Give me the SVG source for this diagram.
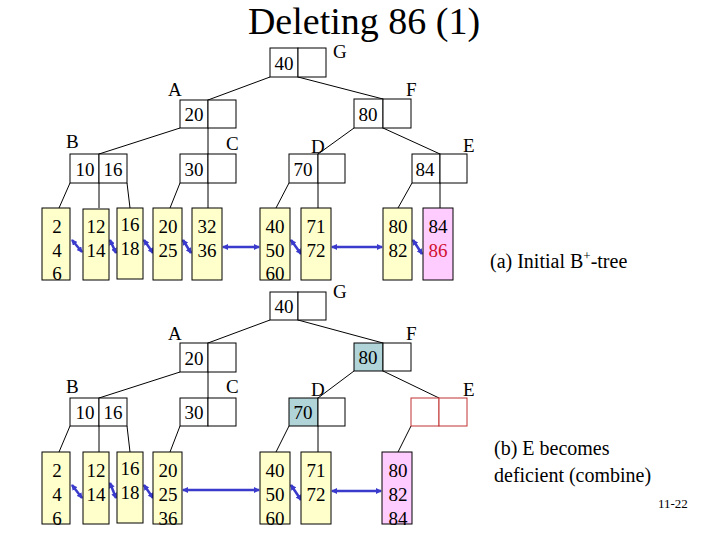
<svg xmlns="http://www.w3.org/2000/svg" width="720" height="540" viewBox="0 0 720 540" font-family="'Liberation Serif', 'Times New Roman', serif">
<defs>
<marker id="ah" markerWidth="6" markerHeight="6" refX="5" refY="3" orient="auto-start-reverse" markerUnits="userSpaceOnUse"><path d="M0,0 L6,3 L0,6 z" fill="#3a3acc"/></marker>
<style>
text{font-family:'Liberation Serif','Times New Roman',serif;fill:#000}
.k{font-size:19px;font-family:'Liberation Serif','Times New Roman',serif}
.n{fill:#fff;stroke:#000;stroke-width:1}
.lf{fill:#ffffcc;stroke:#000;stroke-width:1}
.pk{fill:#ffccff;stroke:#000;stroke-width:1}
.bl{fill:#b0d4d8;stroke:#000;stroke-width:1}
.rd{fill:#fff;stroke:#c03030;stroke-width:1}
.e{stroke:#000;stroke-width:1;fill:none}
.p{stroke:#3a3acc;stroke-width:2.5;fill:none;marker-start:url(#ah);marker-end:url(#ah)}
.lb{font-size:19px;font-family:'Liberation Serif','Times New Roman',serif}
</style>
</defs>
<rect width="720" height="540" fill="#fff"/>
<text x="364" y="34" font-size="38" text-anchor="middle">Deleting 86 (1)</text>
<g id="connectors">
<path class="e" d="M270,77 L208,100 M298,77 L383,99 M180,128 L99,154 M208,128 L208,154 M354,128 L318,154 M383,128 L440,154 M70,183 L59,208 M99,183 L99,208 M127,183 L130,208 M180,183 L170,208 M208,183 L208,208 M289,183 L276,208 M318,183 L318,208 M412,183 L398,208 M440,183 L440,208"/>
<line class="p" x1="72" y1="240" x2="82" y2="252"/>
<line class="p" x1="110" y1="240" x2="116" y2="253"/>
<line class="p" x1="144" y1="240" x2="153" y2="253"/>
<line class="p" x1="183" y1="240" x2="191" y2="253"/>
<line class="p" x1="223" y1="247" x2="259" y2="247"/>
<line class="p" x1="291" y1="240" x2="301" y2="254"/>
<line class="p" x1="332" y1="247" x2="382" y2="247"/>
<line class="p" x1="413" y1="240" x2="422" y2="254"/>
<path class="e" d="M270,320 L208,343 M298,320 L383,343 M180,372 L99,398 M208,372 L208,398 M354,371 L318,398 M383,371 L439,398 M70,426 L59,452 M99,426 L99,452 M127,426 L130,452 M180,426 L170,452 M289,426 L276,452 M318,426 L318,452 M411,426 L398,452"/>
<line class="p" x1="72" y1="485" x2="82" y2="498"/>
<line class="p" x1="110" y1="483" x2="116" y2="498"/>
<line class="p" x1="144" y1="485" x2="153" y2="498"/>
<line class="p" x1="183" y1="490" x2="259" y2="490"/>
<line class="p" x1="291" y1="485" x2="301" y2="500"/>
<line class="p" x1="332" y1="491" x2="381" y2="491"/>
</g>
<g id="tree-a">
<g id="G1"><rect class="n" x="270" y="48" width="28" height="29"/><rect class="n" x="298" y="48" width="28" height="29"/><text class="k" x="284" y="70" text-anchor="middle">40</text><text class="lb" x="333" y="58">G</text></g>
<g id="A1"><rect class="n" x="180" y="100" width="28" height="28"/><rect class="n" x="208" y="100" width="28" height="28"/><text class="k" x="194" y="121" text-anchor="middle">20</text><text class="lb" x="168" y="96">A</text></g>
<g id="F1"><rect class="n" x="354" y="99" width="29" height="29"/><rect class="n" x="383" y="99" width="28" height="29"/><text class="k" x="368" y="121" text-anchor="middle">80</text><text class="lb" x="406" y="96">F</text></g>
<g id="B1"><rect class="n" x="70" y="154" width="29" height="29"/><rect class="n" x="99" y="154" width="28" height="29"/><text class="k" x="85" y="176" text-anchor="middle">10</text><text class="k" x="113" y="176" text-anchor="middle">16</text><text class="lb" x="66" y="148">B</text></g>
<g id="C1"><rect class="n" x="180" y="154" width="28" height="29"/><rect class="n" x="208" y="154" width="28" height="29"/><text class="k" x="194" y="176" text-anchor="middle">30</text><text class="lb" x="226" y="150">C</text></g>
<g id="D1"><rect class="n" x="289" y="154" width="29" height="29"/><rect class="n" x="318" y="154" width="27" height="29"/><text class="k" x="303" y="176" text-anchor="middle">70</text><text class="lb" x="311" y="153">D</text></g>
<g id="E1"><rect class="n" x="412" y="154" width="28" height="29"/><rect class="n" x="440" y="154" width="27" height="29"/><text class="k" x="425" y="176" text-anchor="middle">84</text><text class="lb" x="463" y="152">E</text></g>
<g id="L1"><rect class="lf" x="42" y="208" width="28" height="72"/><text class="k" x="57" y="233" text-anchor="middle">2</text><text class="k" x="57" y="257" text-anchor="middle">4</text><text class="k" x="57" y="280" text-anchor="middle">6</text></g>
<g id="L2"><rect class="lf" x="83" y="209" width="26" height="71"/><text class="k" x="96" y="233" text-anchor="middle">12</text><text class="k" x="96" y="257" text-anchor="middle">14</text></g>
<g id="L3"><rect class="lf" x="117" y="208" width="26" height="71"/><text class="k" x="130" y="231" text-anchor="middle">16</text><text class="k" x="130" y="255" text-anchor="middle">18</text></g>
<g id="L4"><rect class="lf" x="153" y="208" width="29" height="72"/><text class="k" x="168" y="233" text-anchor="middle">20</text><text class="k" x="168" y="257" text-anchor="middle">25</text></g>
<g id="L5"><rect class="lf" x="192" y="208" width="30" height="72"/><text class="k" x="207" y="233" text-anchor="middle">32</text><text class="k" x="207" y="257" text-anchor="middle">36</text></g>
<g id="L6"><rect class="lf" x="260" y="208" width="30" height="72"/><text class="k" x="275" y="233" text-anchor="middle">40</text><text class="k" x="275" y="257" text-anchor="middle">50</text><text class="k" x="275" y="280" text-anchor="middle">60</text></g>
<g id="L7"><rect class="lf" x="301" y="208" width="30" height="72"/><text class="k" x="316" y="233" text-anchor="middle">71</text><text class="k" x="316" y="257" text-anchor="middle">72</text></g>
<g id="L8"><rect class="lf" x="383" y="208" width="29" height="72"/><text class="k" x="398" y="233" text-anchor="middle">80</text><text class="k" x="398" y="257" text-anchor="middle">82</text></g>
<g id="L9"><rect class="pk" x="423" y="208" width="30" height="72"/><text class="k" x="438" y="233" text-anchor="middle">84</text><text class="k" x="438" y="257" text-anchor="middle" style="fill:#d01030">86</text></g>
</g>
<text x="490" y="268" font-size="20">(a) Initial B<tspan font-size="13" dy="-8">+</tspan><tspan dy="8">-tree</tspan></text>
<g id="tree-b">
<g id="G2"><rect class="n" x="270" y="292" width="28" height="28"/><rect class="n" x="298" y="292" width="28" height="28"/><text class="k" x="284" y="313" text-anchor="middle">40</text><text class="lb" x="333" y="298">G</text></g>
<g id="A2"><rect class="n" x="180" y="343" width="28" height="29"/><rect class="n" x="208" y="343" width="28" height="29"/><text class="k" x="194" y="365" text-anchor="middle">20</text><text class="lb" x="168" y="340">A</text></g>
<g id="F2"><rect class="bl" x="354" y="343" width="29" height="28"/><rect class="n" x="383" y="343" width="28" height="28"/><text class="k" x="368" y="364" text-anchor="middle">80</text><text class="lb" x="406" y="340">F</text></g>
<g id="B2"><rect class="n" x="70" y="398" width="29" height="28"/><rect class="n" x="99" y="398" width="28" height="28"/><text class="k" x="85" y="419" text-anchor="middle">10</text><text class="k" x="113" y="419" text-anchor="middle">16</text><text class="lb" x="66" y="393">B</text></g>
<g id="C2"><rect class="n" x="180" y="398" width="28" height="28"/><rect class="n" x="208" y="398" width="28" height="28"/><text class="k" x="194" y="419" text-anchor="middle">30</text><text class="lb" x="226" y="393">C</text></g>
<g id="D2"><rect class="bl" x="289" y="398" width="29" height="28"/><rect class="n" x="318" y="398" width="27" height="28"/><text class="k" x="303" y="419" text-anchor="middle">70</text><text class="lb" x="311" y="396">D</text></g>
<g id="E2"><rect class="rd" x="411" y="398" width="28" height="28"/><rect class="rd" x="439" y="398" width="28" height="28"/><text class="lb" x="463" y="396">E</text></g>
<g id="M1"><rect class="lf" x="42" y="452" width="28" height="72"/><text class="k" x="57" y="477" text-anchor="middle">2</text><text class="k" x="57" y="501" text-anchor="middle">4</text><text class="k" x="57" y="525" text-anchor="middle">6</text></g>
<g id="M2"><rect class="lf" x="83" y="452" width="26" height="72"/><text class="k" x="96" y="477" text-anchor="middle">12</text><text class="k" x="96" y="501" text-anchor="middle">14</text></g>
<g id="M3"><rect class="lf" x="117" y="452" width="26" height="71"/><text class="k" x="130" y="475" text-anchor="middle">16</text><text class="k" x="130" y="499" text-anchor="middle">18</text></g>
<g id="M4"><rect class="lf" x="153" y="452" width="29" height="72"/><text class="k" x="168" y="477" text-anchor="middle">20</text><text class="k" x="168" y="501" text-anchor="middle">25</text><text class="k" x="168" y="525" text-anchor="middle">36</text></g>
<g id="M6"><rect class="lf" x="260" y="452" width="30" height="72"/><text class="k" x="275" y="477" text-anchor="middle">40</text><text class="k" x="275" y="501" text-anchor="middle">50</text><text class="k" x="275" y="525" text-anchor="middle">60</text></g>
<g id="M7"><rect class="lf" x="301" y="452" width="30" height="72"/><text class="k" x="316" y="477" text-anchor="middle">71</text><text class="k" x="316" y="501" text-anchor="middle">72</text></g>
<g id="M8"><rect class="pk" x="382" y="452" width="30" height="72"/><text class="k" x="398" y="477" text-anchor="middle">80</text><text class="k" x="398" y="501" text-anchor="middle">82</text><text class="k" x="398" y="525" text-anchor="middle">84</text></g>
</g>
<text x="494" y="455" font-size="20">(b) E becomes</text>
<text x="494" y="482" font-size="20">deficient (combine)</text>
<text x="658" y="508" font-size="13">11-22</text>
</svg>
